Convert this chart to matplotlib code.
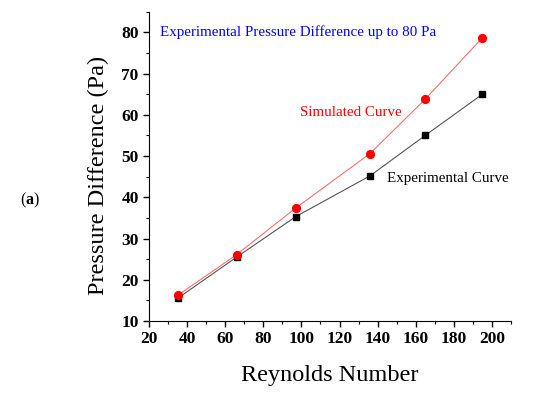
import matplotlib.pyplot as plt
from matplotlib.ticker import MultipleLocator

re_num = [35, 66, 97, 136, 165, 195]
p_exp = [15.5, 25.5, 35.3, 45.2, 55.0, 65.0]
p_sim = [16.2, 26.1, 37.4, 50.6, 63.8, 78.7]

plt.rcParams['font.family'] = ['Liberation Serif', 'DejaVu Serif']
plt.rcParams['mathtext.fontset'] = 'custom'
plt.rcParams['mathtext.rm'] = 'Liberation Serif'
plt.rcParams['mathtext.bf'] = 'Liberation Serif:bold'

fig = plt.figure(figsize=(5.5, 3.98), dpi=100)
ax = fig.add_axes([0.271, 0.1935, 0.658, 0.777])

ax.plot(re_num, p_exp, color='#555555', lw=0.8, marker='s', ms=4.8,
        mfc='black', mec='black')
ax.plot(re_num, p_sim, color='#ff7070', lw=0.8, marker='o', ms=5.6,
        mfc='red', mec='red')

ax.set_xlim(20, 210)
ax.set_ylim(10, 85)
ax.xaxis.set_major_locator(MultipleLocator(20))
ax.xaxis.set_minor_locator(MultipleLocator(10))
ax.yaxis.set_major_locator(MultipleLocator(10))
ax.yaxis.set_minor_locator(MultipleLocator(5))
ax.tick_params(which='major', direction='out', length=4, width=1, labelsize=12.5)
ax.tick_params(which='minor', direction='out', length=2.5, width=0.8)
for lab in ax.get_xticklabels() + ax.get_yticklabels():
    lab.set_fontweight('bold')

ax.spines['top'].set_visible(False)
ax.spines['right'].set_visible(False)

ax.set_xlabel('Reynolds Number', fontsize=17.5, labelpad=13)
ax.set_ylabel('Pressure Difference (Pa)', fontsize=17.5)
ax.yaxis.set_label_coords(-0.11, 0.47)

ax.text(26, 80, 'Experimental Pressure Difference up to 80 Pa', color='blue',
        fontsize=10.8, va='center')
ax.text(99, 60.5, 'Simulated Curve', color='red', fontsize=10.8, va='center')
ax.text(145, 44.5, 'Experimental Curve', color='black', fontsize=10.8, va='center')

fig.text(0.036, 0.497, r'($\mathbf{a}$)', fontsize=11.5, va='center')

fig.savefig('out.png', dpi=100)
